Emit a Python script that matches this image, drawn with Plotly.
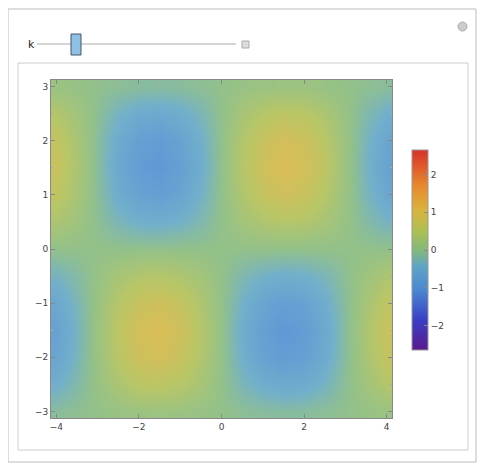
import plotly.graph_objects as go

# density values (grid step 0.5)
x_vals = [-4, -3.5, -3, -2.5, -2, -1.5, -1, -0.5, 0, 0.5, 1, 1.5, 2, 2.5, 3, 3.5, 4]
y_vals = [-3, -2.5, -2, -1.5, -1, -0.5, 0, 0.5, 1, 1.5, 2, 2.5, 3]
z_rows = [
    [-0.11, -0.05, 0.02, 0.08, 0.13, 0.14, 0.12, 0.07, 0, -0.07, -0.12, -0.14, -0.13, -0.08, -0.02, 0.05, 0.11],
    [-0.46, -0.21, 0.08, 0.36, 0.55, 0.60, 0.50, 0.29, 0, -0.29, -0.50, -0.60, -0.55, -0.36, -0.08, 0.21, 0.46],
    [-0.69, -0.32, 0.13, 0.55, 0.83, 0.91, 0.76, 0.44, 0, -0.44, -0.76, -0.91, -0.83, -0.55, -0.13, 0.32, 0.69],
    [-0.76, -0.35, 0.14, 0.60, 0.91, 1.00, 0.84, 0.48, 0, -0.48, -0.84, -1.00, -0.91, -0.60, -0.14, 0.35, 0.76],
    [-0.64, -0.29, 0.12, 0.50, 0.76, 0.84, 0.71, 0.40, 0, -0.40, -0.71, -0.84, -0.76, -0.50, -0.12, 0.29, 0.64],
    [-0.36, -0.17, 0.07, 0.29, 0.44, 0.48, 0.40, 0.23, 0, -0.23, -0.40, -0.48, -0.44, -0.29, -0.07, 0.17, 0.36],
    [0, 0, 0, 0, 0, 0, 0, 0, 0, 0, 0, 0, 0, 0, 0, 0, 0],
    [0.36, 0.17, -0.07, -0.29, -0.44, -0.48, -0.40, -0.23, 0, 0.23, 0.40, 0.48, 0.44, 0.29, 0.07, -0.17, -0.36],
    [0.64, 0.29, -0.12, -0.50, -0.76, -0.84, -0.71, -0.40, 0, 0.40, 0.71, 0.84, 0.76, 0.50, 0.12, -0.29, -0.64],
    [0.76, 0.35, -0.14, -0.60, -0.91, -1.00, -0.84, -0.48, 0, 0.48, 0.84, 1.00, 0.91, 0.60, 0.14, -0.35, -0.76],
    [0.69, 0.32, -0.13, -0.55, -0.83, -0.91, -0.76, -0.44, 0, 0.44, 0.76, 0.91, 0.83, 0.55, 0.13, -0.32, -0.69],
    [0.46, 0.21, -0.08, -0.36, -0.55, -0.60, -0.50, -0.29, 0, 0.29, 0.50, 0.60, 0.55, 0.36, 0.08, -0.21, -0.46],
    [0.11, 0.05, -0.02, -0.08, -0.13, -0.14, -0.12, -0.07, 0, 0.07, 0.12, 0.14, 0.13, 0.08, 0.02, -0.05, -0.11],
]
x_ticks = [-4, -2, 0, 2, 4]
y_ticks = [-3, -2, -1, 0, 1, 2, 3]
cbar_ticks = [-2, -1, 0, 1, 2]

# page body has an 8px margin, so work in page pixels minus 8
OFF = 8
W, H = 480, 456
px_x = lambda p: (p - OFF) / W
px_y = lambda p: 1 - (p - OFF) / H

cscale = [
    [0.0, "#5b1a8e"], [0.15, "#3b3fc6"], [0.3, "#4a88d2"], [0.42, "#5fa5c4"],
    [0.5, "#84b97a"], [0.6, "#afbf52"], [0.7, "#d9b33e"], [0.82, "#e88a2e"],
    [1.0, "#d8302a"],
]

fig = go.Figure(go.Heatmap(
    x=x_vals, y=y_vals, z=z_rows, zsmooth="best",
    colorscale=cscale, zmin=-2.65, zmax=2.65, opacity=0.88,
    colorbar=dict(
        x=px_x(402), xanchor="left", y=px_y(250), yanchor="middle",
        thickness=16, len=220, lenmode="pixels", outlinewidth=1, outlinecolor="#999",
        tickvals=cbar_ticks, ticktext=["\u22122", "\u22121", "0", "1", "2"],
        ticks="inside", ticklen=4, tickcolor="#888",
        tickfont=dict(size=9, color="#444"),
    ),
))

axis_common = dict(
    showgrid=False, zeroline=False, mirror="ticks", showline=True,
    linecolor="#888", linewidth=1, ticks="inside", ticklen=4, tickcolor="#888",
    tickfont=dict(size=9, color="#444", family="DejaVu Sans"),
    minor=dict(ticks="inside", ticklen=2, tickcolor="#aaa", nticks=5),
)
fig.update_xaxes(range=[-4.13, 4.13], domain=[px_x(51), px_x(392)], tickvals=x_ticks,
                 ticktext=["\u22124", "\u22122", "0", "2", "4"], **axis_common)
fig.update_yaxes(range=[-3.12, 3.12], domain=[px_y(418), px_y(80)], tickvals=y_ticks,
                 ticktext=["\u22123", "\u22122", "\u22121", "0", "1", "2", "3"], **axis_common)

shapes = [
    # outer frame and inner panel
    dict(type="rect", xref="paper", yref="paper", x0=px_x(8), x1=px_x(476), y0=px_y(462), y1=px_y(9),
         line=dict(color="#bbb", width=1)),
    dict(type="rect", xref="paper", yref="paper", x0=px_x(18), x1=px_x(468), y0=px_y(450), y1=px_y(63),
         line=dict(color="#ccc", width=1)),
    # slider track
    dict(type="line", xref="paper", yref="paper", x0=px_x(37), x1=px_x(236), y0=px_y(44), y1=px_y(44),
         line=dict(color="#aaa", width=1)),
    # slider thumb
    dict(type="rect", xref="paper", yref="paper", x0=px_x(71), x1=px_x(81), y0=px_y(55), y1=px_y(34),
         line=dict(color="#456", width=1), fillcolor="#8fc0e6"),
    # plus button and corner circle
    dict(type="rect", xref="paper", yref="paper", x0=px_x(242), x1=px_x(249), y0=px_y(48), y1=px_y(41),
         line=dict(color="#aaa", width=1), fillcolor="#ddd"),
    dict(type="circle", xref="paper", yref="paper", x0=px_x(458), x1=px_x(467), y0=px_y(31), y1=px_y(22),
         line=dict(color="#aaa", width=1), fillcolor="#ccc"),
]

fig.update_layout(
    width=W, height=H, margin=dict(l=0, r=0, t=0, b=0),
    paper_bgcolor="white", plot_bgcolor="white", shapes=shapes,
    font=dict(family="DejaVu Sans"),
    annotations=[dict(text="k", xref="paper", yref="paper", x=px_x(26), y=px_y(44),
                      yanchor="middle", showarrow=False, font=dict(size=11, color="#222"))],
)

fig.write_html("out.html")
